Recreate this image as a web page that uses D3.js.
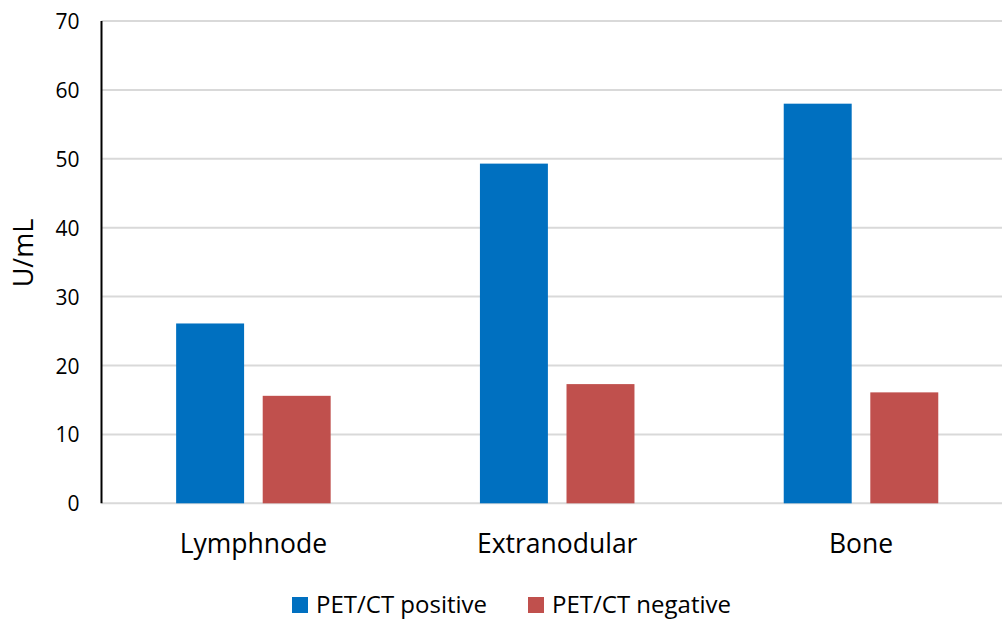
<!DOCTYPE html>
<html>
<head>
<meta charset="utf-8">
<script src="https://cdn.jsdelivr.net/npm/d3@7"></script>
<style>
  body { margin: 0; background: #fff; }
  #canvas { width: 1002px; height: 619px; overflow: hidden; }
  text { font-family: "Open Sans", "Noto Sans", sans-serif; fill: #000; }
</style>
</head>
<body>
<div id="canvas" class="canvas"></div>
<script>
// data
var categories = ['Lymphnode', 'Extranodular', 'Bone'];
var seriesNames = ['PET/CT positive', 'PET/CT negative'];
var positive = [26.1, 49.3, 58.0];
var negative = [15.6, 17.3, 16.1];
var yTicks = [0, 10, 20, 30, 40, 50, 60, 70];
var colors = ['#0070C0', '#C0504D'];

var W = 1002, H = 619;
var m = {t:21, l:101.5};
var w = 911.4,          // plot runs a bit past the right edge
    h = 482.3;

var svg = d3.select('.canvas')
  .append('svg')
  .attr('width', W)
  .attr('height', H);

var plot = svg.append('g')
  .attr('transform', 'translate(' + m.l + ',' + m.t + ')');

var rows = categories.map(function(c, i){
  return {cat: c, values: [positive[i], negative[i]]};
});

// scales
var scaleY = d3.scaleLinear().domain([0, 70]).range([h, 0]);
var scaleX = d3.scaleBand().domain(categories).range([0, w]);
var scaleS = d3.scaleBand().domain(seriesNames)
  .range([0, scaleX.bandwidth()])
  .paddingInner(0.215)
  .paddingOuter(0.862);

// gridlines
plot.append('g')
  .selectAll('line')
  .data(yTicks)
  .enter()
  .append('line')
  .attr('x1', 0)
  .attr('x2', w)
  .attr('y1', function(d){ return scaleY(d); })
  .attr('y2', function(d){ return scaleY(d); })
  .attr('stroke', '#d9d9d9')
  .attr('stroke-width', 2);

// y axis labels
var axisY = d3.axisLeft(scaleY).tickValues(yTicks).tickSize(0).tickPadding(22);
var gy = plot.append('g').attr('class', 'axis').call(axisY);
gy.select('.domain').remove();
gy.selectAll('text').style('font-size', '21px').attr('dy', '0.36em');

// bars
var groups = plot.selectAll('.grp')
  .data(rows)
  .enter()
  .append('g')
  .attr('class', 'grp')
  .attr('transform', function(d){ return 'translate(' + scaleX(d.cat) + ',0)'; });

groups.selectAll('rect')
  .data(function(d){ return d.values.map(function(v, i){ return {s: seriesNames[i], v: v, i: i}; }); })
  .enter()
  .append('rect')
  .attr('x', function(d){ return scaleS(d.s); })
  .attr('y', function(d){ return scaleY(d.v); })
  .attr('width', scaleS.bandwidth())
  .attr('height', function(d){ return h - scaleY(d.v); })
  .attr('fill', function(d){ return colors[d.i]; });

// y axis line in black
plot.append('line')
  .attr('x1', 0).attr('x2', 0)
  .attr('y1', 0).attr('y2', h)
  .attr('stroke', '#000')
  .attr('stroke-width', 2);

// x axis labels
var axisX = d3.axisBottom(scaleX).tickSize(0).tickPadding(0);
var gx = plot.append('g')
  .attr('transform', 'translate(0,' + h + ')')
  .call(axisX);
gx.select('.domain').remove();
gx.selectAll('text')
  .attr('y', 49.5).attr('dy', null)
  .style('font-size', '26.5px');

// y title
svg.append('text')
  .attr('transform', 'translate(33,253) rotate(-90)')
  .attr('text-anchor', 'middle')
  .style('font-size', '27px')
  .text('U/mL');

// legend
var legX = [292, 528];
var leg = svg.selectAll('.leg')
  .data(seriesNames)
  .enter()
  .append('g')
  .attr('class', 'leg')
  .attr('transform', function(d, i){ return 'translate(' + legX[i] + ',597)'; });
leg.append('rect')
  .attr('width', 16).attr('height', 16)
  .attr('fill', function(d, i){ return colors[i]; });
leg.append('text')
  .attr('x', 24).attr('y', 16)
  .style('font-size', '24px')
  .text(function(d){ return d; });
</script>
</body>
</html>
